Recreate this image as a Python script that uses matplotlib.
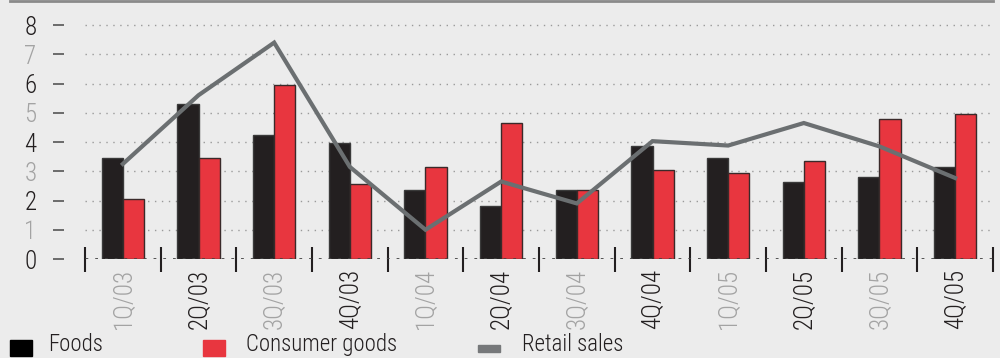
import matplotlib
matplotlib.use("Agg")
import matplotlib.pyplot as plt
from matplotlib.patches import Rectangle
from matplotlib.lines import Line2D
from matplotlib import font_manager
import numpy as np

quarters=["1Q/03","2Q/03","3Q/03","4Q/03","1Q/04","2Q/04","3Q/04","4Q/04","1Q/05","2Q/05","3Q/05","4Q/05"]
foods=[3.45,5.3,4.25,3.95,2.35,1.8,2.35,3.85,3.45,2.65,2.8,3.15]
consumer=[2.05,3.45,5.95,2.55,3.15,4.65,2.35,3.05,2.95,3.35,4.8,4.95]
retail=[3.25,5.6,7.4,3.15,1.0,2.65,1.9,4.03,3.88,4.65,3.85,2.77]
yticks=[0,1,2,3,4,5,6,7,8]

bg="#ececec"
red="#e8363f"
black="#231f20"
grey_line="#6b6f71"
light="#a3a3a3"

names=set(f.name for f in font_manager.fontManager.ttflist)
font=[n for n in ["Liberation Sans Narrow","DejaVu Sans Condensed","Roboto Condensed","DejaVu Sans"] if n in names]
fp=dict(family=font,stretch="condensed",weight="light")

fig=plt.figure(figsize=(10,3.58),dpi=100,facecolor=bg)
ax=fig.add_axes([0.085,0.2765,0.908,0.6944])
ax.set_facecolor(bg)

x=np.arange(len(quarters))
ax.bar(x-0.14,foods,width=0.28,color=black,edgecolor="#3a3a3a",linewidth=1,zorder=3)
ax.bar(x+0.14,consumer,width=0.28,color=red,edgecolor="#3a2a2a",linewidth=1,zorder=3)
ax.plot(x,retail,color=grey_line,linewidth=3,zorder=4,solid_joinstyle="miter")

ax.set_xlim(-0.5,11.5)
ax.set_ylim(0,8.5)

for v in yticks[1:]:
    ax.axhline(v,color="#9a9a9a",linestyle=(0,(1,4)),linewidth=1,zorder=1)
ax.axhline(0,color="#444444",linestyle=(0,(1,2.5)),linewidth=2,zorder=5)

for s in ax.spines.values():
    s.set_visible(False)
ax.spines["left"].set_position(("outward",15))

ax.set_yticks(yticks)
ax.set_yticklabels([str(v) for v in yticks],fontsize=18,**fp)
ax.tick_params(axis="y",length=8,width=1.2,color="#555555",pad=12)
for i,lab in enumerate(ax.get_yticklabels()):
    lab.set_color(black if i%2==0 else light)

ax.set_xticks(x)
ax.set_xticklabels(quarters,rotation=90,fontsize=18,**fp)
ax.tick_params(axis="x",length=0,pad=7)
for i,lab in enumerate(ax.get_xticklabels()):
    lab.set_color(light if i%2==0 else black)
ax.set_xticks(np.arange(-0.5,12,1),minor=True)
ax.tick_params(axis="x",which="minor",direction="inout",length=18,width=1.5,color=black)

fig.add_artist(Line2D([0.01,0.993],[0.997,0.997],color="#8a8a8a",linewidth=2))

# legend
fig.add_artist(Rectangle((0.010,0.006),0.022,0.045,color="black"))
fig.text(0.048,0.02,"Foods",fontsize=16.5,color=black,**fp)
fig.add_artist(Rectangle((0.203,0.006),0.022,0.045,color=red))
fig.text(0.246,0.02,"Consumer goods",fontsize=16.5,color=black,**fp)
fig.add_artist(Rectangle((0.478,0.017),0.022,0.02,color="#76787a"))
fig.text(0.522,0.02,"Retail sales",fontsize=16.5,color=black,**fp)

fig.savefig("out.png",dpi=100,facecolor=bg)
